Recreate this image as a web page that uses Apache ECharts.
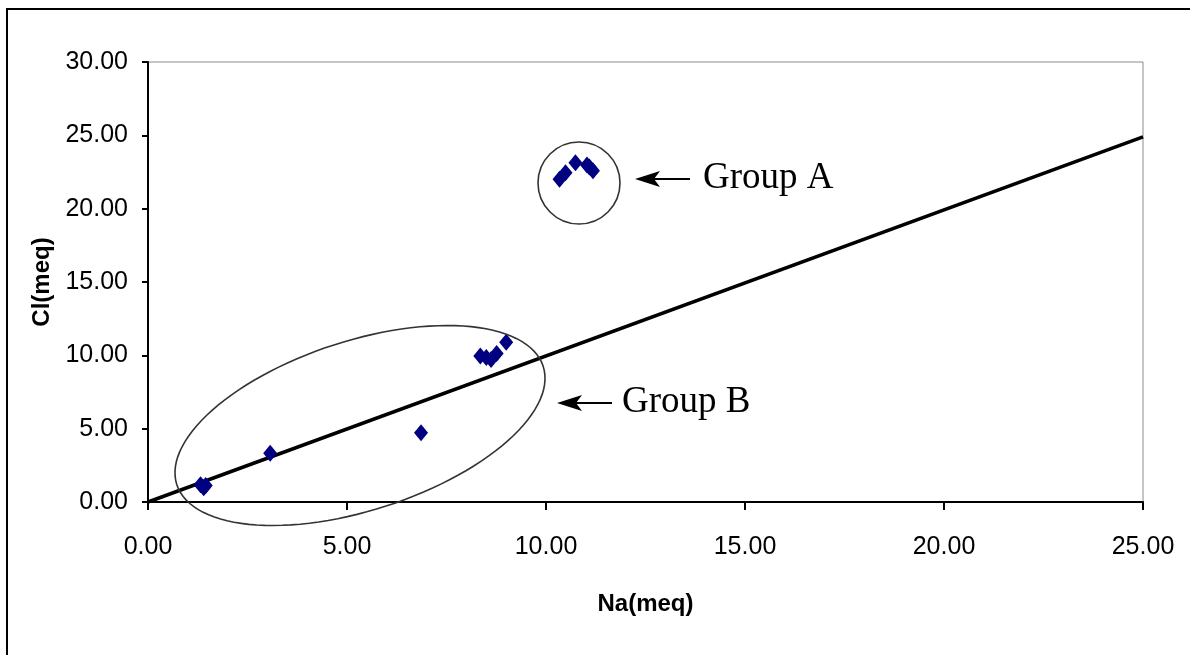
<!DOCTYPE html>
<html>
<head>
<meta charset="utf-8">
<script src="https://cdn.jsdelivr.net/npm/echarts@6/dist/echarts.min.js"></script>
<style>
  html, body { margin: 0; padding: 0; background: #fff; }
  #chart { width: 1190px; height: 655px; }
</style>
</head>
<body>
<div id="chart"></div>
<script>
// Na / Cl (meq) values
const groupA_na = [10.34, 10.49, 10.74, 11.03, 11.09, 11.18]
const groupA_cl = [22.0, 22.45, 23.13, 22.97, 22.84, 22.58]
const groupB_na = [1.32, 1.40, 1.45, 3.07, 6.86, 8.35, 8.50, 8.62, 8.76, 9.0]
const groupB_cl = [1.18, 0.98, 1.12, 3.32, 4.72, 9.95, 9.85, 9.72, 10.12, 10.89]
const refLine_na = [0, 25]
const refLine_cl = [0, 24.9]

const narrow = "'Liberation Sans Narrow', 'Arial Narrow', 'Liberation Sans', sans-serif"
const serif = "'Liberation Serif', 'DejaVu Serif', serif"

const chart = echarts.init(document.getElementById('chart'))

// ellipse outline as polygon points (pixel space, annotation only)
function ellipsePoints(cx, cy, a, b, deg) {
  const t = (deg * Math.PI) / 180
  const pts = []
  for (let i = 0; i < 120; i++) {
    const u = (i / 120) * Math.PI * 2
    const x = a * Math.cos(u)
    const y = b * Math.sin(u)
    pts.push([cx + x * Math.cos(t) + y * Math.sin(t), cy - x * Math.sin(t) + y * Math.cos(t)])
  }
  return pts
}

function arrow(x0, x1, y) {
  return [
    { type: 'line', shape: { x1: x0 + 18, y1: y, x2: x1, y2: y }, style: { stroke: '#000', lineWidth: 2 } },
    {
      type: 'polygon',
      shape: { points: [[x0, y], [x0 + 25, y - 8], [x0 + 19, y], [x0 + 25, y + 8]] },
      style: { fill: '#000' },
    },
  ]
}

const pairs = (xs, ys) => xs.map((v, i) => [v, ys[i]])

const option = {
  backgroundColor: '#fff',
  animation: false,
  grid: {
    left: 148,
    right: 47,
    top: 62,
    bottom: 153,
    show: true,
    borderColor: '#8c8c8c',
    borderWidth: 1,
    backgroundColor: '#fff',
  },
  xAxis: {
    type: 'value',
    min: 0,
    max: 25,
    interval: 5,
    name: 'Na(meq)',
    nameLocation: 'middle',
    nameGap: 90,
    nameTextStyle: { fontFamily: narrow, fontWeight: 'bold', fontSize: 24, color: '#000' },
    axisLine: { show: true, onZero: false, lineStyle: { color: '#000', width: 2 } },
    axisTick: { show: true, inside: false, length: 8, lineStyle: { color: '#000', width: 2 } },
    axisLabel: {
      margin: 33,
      fontFamily: narrow,
      fontSize: 25,
      color: '#000',
      formatter: (v) => v.toFixed(2),
    },
    splitLine: { show: false },
  },
  yAxis: {
    type: 'value',
    min: 0,
    max: 30,
    interval: 5,
    name: 'Cl(meq)',
    nameLocation: 'middle',
    nameGap: 82,
    nameTextStyle: { fontFamily: narrow, fontWeight: 'bold', fontSize: 24, color: '#000' },
    axisLine: { show: true, onZero: false, lineStyle: { color: '#000', width: 2 } },
    axisTick: { show: true, inside: false, length: 6, lineStyle: { color: '#000', width: 2 } },
    axisLabel: {
      margin: 20,
      fontFamily: narrow,
      fontSize: 25,
      color: '#000',
      formatter: (v) => v.toFixed(2),
    },
    splitLine: { show: false },
  },
  series: [
    {
      name: 'line',
      type: 'line',
      data: pairs(refLine_na, refLine_cl),
      symbol: 'none',
      lineStyle: { color: '#000', width: 3.5 },
      z: 2,
    },
    {
      name: 'Group A',
      type: 'scatter',
      data: pairs(groupA_na, groupA_cl),
      symbol: 'diamond',
      symbolSize: [14, 17],
      itemStyle: { color: '#000080', opacity: 1 },
      z: 3,
    },
    {
      name: 'Group B',
      type: 'scatter',
      data: pairs(groupB_na, groupB_cl),
      symbol: 'diamond',
      symbolSize: [14, 17],
      itemStyle: { color: '#000080', opacity: 1 },
      z: 3,
    },
  ],
  graphic: [
    {
      type: 'rect',
      shape: { x: 7, y: 9, width: 1300, height: 800 },
      style: { fill: 'none', stroke: '#000', lineWidth: 2 },
      silent: true,
    },
    {
      type: 'circle',
      shape: { cx: 579, cy: 183, r: 41 },
      style: { fill: 'none', stroke: '#333', lineWidth: 1.6 },
      z: 10,
    },
    {
      type: 'polygon',
      shape: { points: ellipsePoints(360, 425.5, 192.5, 84.7, 17.9) },
      style: { fill: 'none', stroke: '#333', lineWidth: 1.6 },
      z: 10,
    },
    ...arrow(635, 690, 179),
    ...arrow(557, 612, 403),
    {
      type: 'text',
      x: 703,
      y: 178,
      style: { text: 'Group A', font: '37px ' + serif, fill: '#000', textVerticalAlign: 'middle' },
    },
    {
      type: 'text',
      x: 622,
      y: 402,
      style: { text: 'Group B', font: '37px ' + serif, fill: '#000', textVerticalAlign: 'middle' },
    },
  ],
}

chart.setOption(option)
window.onresize = chart.resize
</script>
</body>
</html>
